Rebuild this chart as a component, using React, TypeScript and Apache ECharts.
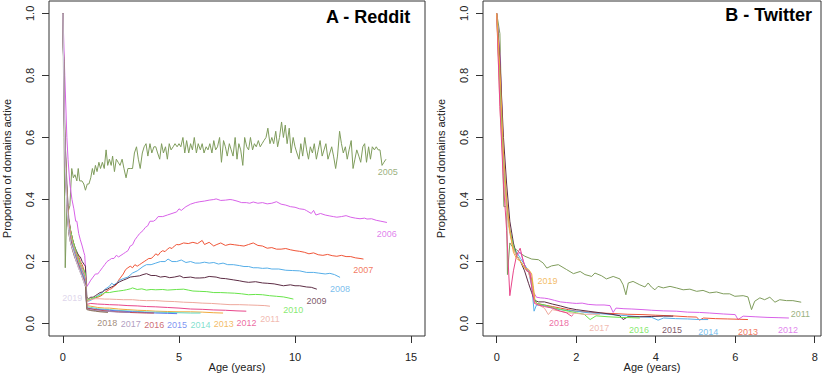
import React, { useEffect, useRef } from "react";
import * as echarts from "echarts";

type Pt = [number, number];

// ---------- axis ticks ----------
const xTicksA = [0, 5, 10, 15];
const xTicksB = [0, 2, 4, 6, 8];
const yTicks = [0, 0.2, 0.4, 0.6, 0.8, 1.0];

// ---------- palette (cohort order) ----------
const palette = ["#7f9c5c", "#d862e8", "#ef5538", "#56aee8", "#5c2c44", "#68e44a", "#eea89c", "#e8468a", "#f0aa3c", "#62d8c2", "#5a78ee", "#c04650", "#9d86b0", "#8a6e58", "#d6cbe6"];
const twitterPalette = ["#7f9c5c", "#d862e8", "#ef5538", "#56aee8", "#5c2c44", "#68e44a", "#eea89c", "#e8468a", "#f0aa3c"];

// ---------- Reddit (panel A) ----------
const reddit2005: Pt[] = [[0,1.0],[0.05,0.6],[0.1,0.18],[0.17,0.38],[0.22,0.36],[0.3,0.38],[0.38,0.5],[0.45,0.47],[0.52,0.48],[0.6,0.46],[0.66,0.5],[0.72,0.46],[0.82,0.46],[0.9,0.45],[0.97,0.43],[1.05,0.45],[1.12,0.45],[1.2,0.47],[1.27,0.5],[1.33,0.48],[1.4,0.51],[1.47,0.49],[1.55,0.52],[1.62,0.5],[1.7,0.52],[1.78,0.5],[1.86,0.56],[1.93,0.51],[2.0,0.53],[2.08,0.51],[2.14,0.54],[2.22,0.49],[2.3,0.53],[2.38,0.52],[2.46,0.51],[2.55,0.53],[2.63,0.5],[2.72,0.47],[2.8,0.5],[2.9,0.5],[3.0,0.5],[3.08,0.55],[3.17,0.57],[3.25,0.53],[3.33,0.5],[3.42,0.55],[3.5,0.57],[3.58,0.58],[3.66,0.54],[3.75,0.58],[3.83,0.55],[3.92,0.57],[4.0,0.57],[4.08,0.55],[4.17,0.53],[4.25,0.58],[4.33,0.55],[4.42,0.57],[4.5,0.53],[4.58,0.58],[4.66,0.56],[4.75,0.57],[4.83,0.58],[4.92,0.57],[5.0,0.58],[5.08,0.57],[5.17,0.6],[5.25,0.55],[5.33,0.59],[5.42,0.55],[5.5,0.58],[5.58,0.56],[5.66,0.6],[5.75,0.55],[5.83,0.58],[5.92,0.56],[6.0,0.58],[6.08,0.55],[6.17,0.57],[6.25,0.56],[6.33,0.58],[6.42,0.55],[6.5,0.59],[6.58,0.56],[6.66,0.57],[6.75,0.6],[6.83,0.52],[6.92,0.59],[7.0,0.57],[7.08,0.54],[7.17,0.58],[7.25,0.56],[7.33,0.54],[7.42,0.6],[7.5,0.53],[7.58,0.58],[7.66,0.56],[7.75,0.51],[7.83,0.6],[7.92,0.57],[8.0,0.56],[8.08,0.6],[8.17,0.56],[8.25,0.58],[8.33,0.57],[8.42,0.59],[8.5,0.57],[8.58,0.58],[8.66,0.59],[8.75,0.6],[8.83,0.63],[8.92,0.58],[9.0,0.6],[9.08,0.58],[9.17,0.62],[9.25,0.57],[9.33,0.6],[9.42,0.65],[9.5,0.6],[9.58,0.64],[9.66,0.58],[9.75,0.63],[9.83,0.55],[9.92,0.6],[10.0,0.57],[10.08,0.55],[10.17,0.53],[10.25,0.58],[10.33,0.54],[10.42,0.6],[10.5,0.56],[10.58,0.53],[10.66,0.57],[10.75,0.55],[10.83,0.58],[10.92,0.53],[11.0,0.56],[11.08,0.59],[11.17,0.54],[11.25,0.56],[11.33,0.58],[11.42,0.53],[11.5,0.55],[11.58,0.57],[11.66,0.54],[11.75,0.5],[11.83,0.54],[11.92,0.62],[12.0,0.58],[12.08,0.55],[12.17,0.57],[12.25,0.53],[12.33,0.56],[12.42,0.59],[12.5,0.5],[12.58,0.53],[12.66,0.56],[12.75,0.54],[12.83,0.52],[12.92,0.57],[13.0,0.58],[13.08,0.52],[13.17,0.57],[13.25,0.53],[13.33,0.57],[13.42,0.56],[13.5,0.57],[13.58,0.56],[13.66,0.56],[13.75,0.51],[13.83,0.52],[13.92,0.53]];
const reddit2006: Pt[] = [[0,1],[0.08,0.8],[0.17,0.6],[0.22,0.53],[0.3,0.45],[0.39,0.4],[0.47,0.37],[0.55,0.33],[0.6,0.33],[0.68,0.29],[0.75,0.27],[0.83,0.25],[0.9,0.23],[0.94,0.22],[1.0,0.14],[1.04,0.12],[1.12,0.13],[1.2,0.14],[1.3,0.15],[1.4,0.16],[1.5,0.16],[1.58,0.168],[1.7,0.18],[1.8,0.19],[1.9,0.2],[2.0,0.205],[2.1,0.21],[2.2,0.21],[2.3,0.22],[2.4,0.215],[2.5,0.22],[2.6,0.225],[2.7,0.23],[2.8,0.235],[2.9,0.25],[3.0,0.254],[3.1,0.27],[3.2,0.28],[3.3,0.29],[3.45,0.3],[3.55,0.31],[3.65,0.315],[3.75,0.33],[3.9,0.33],[4.0,0.335],[4.1,0.345],[4.3,0.345],[4.5,0.35],[4.7,0.355],[4.9,0.36],[5.0,0.37],[5.1,0.365],[5.3,0.377],[5.5,0.385],[5.7,0.39],[5.9,0.393],[6.1,0.395],[6.3,0.398],[6.5,0.4],[6.6,0.402],[6.8,0.397],[7.0,0.398],[7.2,0.4],[7.3,0.399],[7.5,0.395],[7.7,0.39],[7.9,0.39],[8.05,0.388],[8.2,0.392],[8.4,0.388],[8.6,0.39],[8.8,0.386],[9.0,0.388],[9.2,0.393],[9.4,0.385],[9.6,0.382],[9.8,0.377],[10.0,0.375],[10.2,0.37],[10.4,0.368],[10.5,0.364],[10.7,0.355],[10.8,0.365],[10.9,0.35],[11.1,0.355],[11.3,0.35],[11.5,0.347],[11.65,0.345],[11.8,0.343],[12.0,0.345],[12.2,0.348],[12.4,0.343],[12.6,0.34],[12.8,0.338],[13.0,0.34],[13.1,0.337],[13.3,0.338],[13.5,0.333],[13.7,0.33],[13.96,0.326]];
const reddit2007: Pt[] = [[0,1],[0.08,0.6],[0.17,0.42],[0.25,0.33],[0.33,0.3],[0.42,0.27],[0.5,0.245],[0.58,0.23],[0.67,0.22],[0.75,0.2],[0.83,0.19],[0.92,0.17],[0.97,0.155],[1.03,0.075],[1.1,0.075],[1.2,0.078],[1.3,0.08],[1.4,0.083],[1.5,0.085],[1.6,0.088],[1.7,0.092],[1.8,0.1],[1.9,0.105],[2.0,0.11],[2.1,0.113],[2.2,0.12],[2.3,0.125],[2.4,0.14],[2.5,0.15],[2.6,0.16],[2.7,0.174],[2.8,0.18],[2.9,0.185],[3.0,0.18],[3.1,0.19],[3.2,0.185],[3.3,0.19],[3.4,0.195],[3.5,0.2],[3.6,0.205],[3.7,0.21],[3.8,0.21],[3.9,0.216],[4.0,0.225],[4.1,0.22],[4.2,0.23],[4.3,0.235],[4.4,0.232],[4.5,0.24],[4.6,0.245],[4.7,0.242],[4.8,0.25],[4.9,0.255],[5.0,0.254],[5.2,0.26],[5.4,0.258],[5.6,0.262],[5.8,0.258],[6.0,0.268],[6.1,0.255],[6.3,0.262],[6.5,0.25],[6.6,0.254],[6.8,0.26],[7.0,0.252],[7.2,0.256],[7.4,0.254],[7.6,0.252],[7.8,0.25],[8.0,0.255],[8.2,0.26],[8.4,0.252],[8.6,0.25],[8.8,0.243],[9.0,0.245],[9.2,0.24],[9.4,0.24],[9.6,0.242],[9.8,0.238],[10.0,0.235],[10.2,0.233],[10.4,0.23],[10.6,0.225],[10.8,0.228],[11.0,0.222],[11.2,0.22],[11.4,0.223],[11.6,0.219],[11.8,0.217],[12.0,0.22],[12.2,0.216],[12.4,0.216],[12.6,0.212],[12.8,0.21],[12.95,0.208]];
const reddit2008: Pt[] = [[0,1],[0.08,0.58],[0.17,0.4],[0.25,0.32],[0.33,0.28],[0.42,0.26],[0.5,0.24],[0.58,0.22],[0.67,0.21],[0.75,0.19],[0.83,0.18],[0.92,0.16],[0.97,0.14],[1.03,0.07],[1.1,0.072],[1.2,0.075],[1.3,0.08],[1.4,0.085],[1.5,0.09],[1.6,0.095],[1.7,0.1],[1.8,0.11],[1.9,0.115],[2.0,0.12],[2.1,0.13],[2.2,0.125],[2.3,0.13],[2.45,0.14],[2.6,0.145],[2.8,0.15],[3.0,0.163],[3.2,0.17],[3.45,0.184],[3.6,0.19],[3.8,0.19],[4.0,0.195],[4.2,0.2],[4.4,0.2],[4.53,0.208],[4.7,0.2],[4.9,0.2],[5.1,0.205],[5.3,0.197],[5.5,0.2],[5.7,0.195],[5.9,0.195],[6.1,0.198],[6.3,0.195],[6.5,0.197],[6.7,0.192],[6.9,0.195],[7.1,0.19],[7.34,0.19],[7.6,0.187],[7.8,0.184],[8.0,0.184],[8.2,0.18],[8.4,0.18],[8.6,0.178],[8.8,0.179],[9.0,0.176],[9.3,0.176],[9.6,0.172],[9.9,0.171],[10.2,0.17],[10.5,0.165],[10.8,0.165],[11.0,0.163],[11.3,0.16],[11.5,0.162],[11.7,0.158],[11.94,0.149]];
const reddit2009: Pt[] = [[0,1],[0.08,0.62],[0.17,0.45],[0.25,0.34],[0.33,0.3],[0.42,0.27],[0.5,0.25],[0.58,0.235],[0.67,0.22],[0.75,0.215],[0.83,0.2],[0.92,0.19],[0.97,0.185],[1.03,0.085],[1.1,0.08],[1.2,0.085],[1.3,0.085],[1.4,0.09],[1.5,0.095],[1.6,0.1],[1.7,0.102],[1.8,0.108],[1.9,0.11],[2.0,0.115],[2.16,0.12],[2.3,0.128],[2.45,0.135],[2.6,0.14],[2.73,0.144],[2.9,0.15],[3.1,0.152],[3.3,0.154],[3.45,0.158],[3.6,0.161],[3.8,0.155],[4.0,0.155],[4.2,0.15],[4.4,0.152],[4.6,0.148],[4.8,0.15],[5.04,0.154],[5.2,0.148],[5.5,0.15],[5.7,0.147],[5.9,0.147],[6.1,0.148],[6.3,0.152],[6.6,0.15],[6.8,0.146],[7.0,0.145],[7.34,0.141],[7.6,0.138],[7.8,0.135],[8.0,0.133],[8.3,0.135],[8.6,0.131],[8.8,0.13],[9.1,0.128],[9.5,0.122],[9.8,0.125],[10.0,0.122],[10.2,0.122],[10.5,0.118],[10.7,0.117],[10.94,0.111]];
const reddit2010: Pt[] = [[0,1],[0.08,0.6],[0.17,0.42],[0.25,0.33],[0.33,0.3],[0.42,0.27],[0.5,0.25],[0.58,0.23],[0.67,0.21],[0.75,0.195],[0.83,0.18],[0.92,0.17],[0.97,0.16],[1.03,0.075],[1.1,0.077],[1.2,0.08],[1.3,0.083],[1.4,0.085],[1.5,0.088],[1.58,0.09],[1.7,0.095],[1.8,0.1],[2.0,0.1],[2.2,0.103],[2.4,0.105],[2.6,0.107],[2.73,0.109],[2.9,0.112],[3.0,0.115],[3.2,0.11],[3.4,0.112],[3.6,0.108],[3.8,0.11],[4.0,0.109],[4.3,0.11],[4.5,0.108],[4.7,0.109],[4.9,0.11],[5.2,0.111],[5.4,0.108],[5.6,0.105],[5.9,0.104],[6.2,0.103],[6.5,0.1],[6.8,0.1],[7.1,0.099],[7.4,0.098],[7.7,0.096],[8.0,0.093],[8.3,0.094],[8.6,0.093],[8.9,0.09],[9.2,0.088],[9.5,0.086],[9.7,0.083],[9.93,0.079]];
const reddit2011: Pt[] = [[0,1],[0.08,0.58],[0.17,0.42],[0.25,0.33],[0.33,0.29],[0.42,0.26],[0.5,0.24],[0.58,0.22],[0.67,0.2],[0.75,0.19],[0.83,0.175],[0.92,0.16],[0.97,0.15],[1.03,0.07],[1.2,0.078],[1.4,0.08],[1.6,0.08],[1.8,0.079],[2.0,0.079],[2.3,0.078],[2.6,0.077],[3.0,0.077],[3.3,0.075],[3.6,0.074],[4.0,0.074],[4.4,0.072],[4.8,0.071],[5.2,0.069],[5.6,0.068],[6.0,0.066],[6.4,0.065],[6.8,0.063],[7.2,0.061],[7.6,0.061],[8.0,0.06],[8.4,0.059],[8.7,0.058],[8.92,0.056]];
const reddit2012: Pt[] = [[0,1],[0.08,0.58],[0.17,0.41],[0.25,0.32],[0.33,0.28],[0.42,0.25],[0.5,0.235],[0.58,0.22],[0.67,0.2],[0.75,0.185],[0.83,0.17],[0.92,0.155],[0.97,0.14],[1.03,0.062],[1.2,0.065],[1.5,0.063],[1.8,0.062],[2.0,0.061],[2.4,0.06],[2.8,0.058],[3.2,0.057],[3.6,0.055],[4.0,0.054],[4.5,0.052],[5.0,0.05],[5.5,0.047],[6.0,0.046],[6.5,0.044],[7.0,0.043],[7.5,0.041],[7.9,0.04]];
const reddit2013: Pt[] = [[0,1],[0.08,0.57],[0.17,0.4],[0.25,0.31],[0.33,0.28],[0.42,0.25],[0.5,0.23],[0.58,0.215],[0.67,0.2],[0.75,0.18],[0.83,0.165],[0.92,0.15],[0.97,0.135],[1.03,0.058],[1.2,0.056],[1.5,0.052],[1.8,0.05],[2.0,0.05],[2.4,0.047],[2.8,0.045],[3.2,0.043],[3.6,0.042],[4.0,0.04],[4.5,0.039],[5.0,0.038],[5.5,0.038],[6.0,0.037],[6.5,0.035],[6.9,0.034]];
const reddit2014: Pt[] = [[0,1],[0.08,0.57],[0.17,0.4],[0.25,0.31],[0.33,0.275],[0.42,0.25],[0.5,0.23],[0.58,0.21],[0.67,0.195],[0.75,0.18],[0.83,0.165],[0.92,0.15],[0.97,0.13],[1.03,0.054],[1.2,0.052],[1.5,0.048],[1.8,0.046],[2.0,0.045],[2.5,0.042],[3.0,0.04],[3.5,0.038],[4.0,0.037],[4.5,0.036],[5.0,0.035],[5.5,0.034],[5.93,0.034]];
const reddit2015: Pt[] = [[0,1],[0.08,0.56],[0.17,0.39],[0.25,0.3],[0.33,0.27],[0.42,0.245],[0.5,0.225],[0.58,0.21],[0.67,0.19],[0.75,0.175],[0.83,0.16],[0.92,0.145],[0.97,0.13],[1.03,0.05],[1.3,0.047],[1.6,0.045],[2.0,0.043],[2.5,0.04],[3.0,0.038],[3.5,0.036],[4.0,0.034],[4.5,0.033],[4.92,0.032]];
const reddit2016: Pt[] = [[0,1],[0.08,0.56],[0.17,0.39],[0.25,0.3],[0.33,0.27],[0.42,0.24],[0.5,0.22],[0.58,0.205],[0.67,0.19],[0.75,0.17],[0.83,0.155],[0.92,0.14],[0.97,0.125],[1.03,0.05],[1.3,0.046],[1.6,0.043],[2.0,0.04],[2.4,0.038],[2.8,0.036],[3.2,0.035],[3.6,0.034],[3.92,0.034]];
const reddit2017: Pt[] = [[0,1],[0.08,0.55],[0.17,0.38],[0.25,0.3],[0.33,0.26],[0.42,0.24],[0.5,0.22],[0.58,0.2],[0.67,0.185],[0.75,0.17],[0.83,0.15],[0.92,0.135],[0.97,0.12],[1.03,0.047],[1.3,0.043],[1.6,0.04],[2.0,0.039],[2.4,0.037],[2.9,0.036]];
const reddit2018: Pt[] = [[0,1],[0.08,0.55],[0.17,0.38],[0.25,0.29],[0.33,0.26],[0.42,0.235],[0.5,0.215],[0.58,0.2],[0.67,0.18],[0.75,0.165],[0.83,0.15],[0.92,0.13],[0.97,0.12],[1.03,0.045],[1.2,0.042],[1.4,0.04],[1.6,0.038],[1.94,0.036]];
const reddit2019: Pt[] = [[0,1],[0.08,0.55],[0.17,0.38],[0.25,0.3],[0.33,0.26],[0.42,0.24],[0.5,0.22],[0.58,0.2],[0.67,0.18],[0.75,0.165],[0.83,0.15],[0.92,0.13],[0.97,0.12]];

const redditYears = ["2005","2006","2007","2008","2009","2010","2011","2012","2013","2014","2015","2016","2017","2018","2019"];
const redditSeries: Pt[][] = [reddit2005, reddit2006, reddit2007, reddit2008, reddit2009, reddit2010, reddit2011, reddit2012, reddit2013, reddit2014, reddit2015, reddit2016, reddit2017, reddit2018, reddit2019];
// label anchor positions (data units)
const redditLabelX = [14.0, 13.95, 12.94, 11.94, 10.93, 9.92, 8.92, 7.91, 6.93, 5.93, 4.92, 3.93, 2.92, 1.91, 0.4];
const redditLabelY = [0.5, 0.298, 0.182, 0.122, 0.083, 0.052, 0.026, 0.011, 0.007, 0.004, 0.004, 0.005, 0.008, 0.011, 0.091];

// ---------- Twitter (panel B) ----------
const twitter2011: Pt[] = [[0,1],[0.08,0.935],[0.18,0.377],[0.25,0.377],[0.27,0.158],[0.33,0.26],[0.42,0.243],[0.5,0.238],[0.59,0.227],[0.71,0.217],[0.88,0.208],[1.05,0.206],[1.17,0.195],[1.26,0.179],[1.38,0.186],[1.55,0.19],[1.76,0.174],[1.93,0.161],[2.1,0.168],[2.22,0.158],[2.39,0.152],[2.47,0.163],[2.64,0.154],[2.76,0.144],[2.93,0.152],[3.1,0.144],[3.18,0.125],[3.25,0.093],[3.31,0.131],[3.43,0.136],[3.6,0.125],[3.73,0.118],[3.81,0.131],[3.89,0.118],[3.98,0.109],[4.06,0.12],[4.19,0.115],[4.36,0.12],[4.52,0.115],[4.69,0.109],[4.86,0.111],[5.03,0.104],[5.19,0.107],[5.36,0.099],[5.53,0.102],[5.7,0.096],[5.86,0.096],[5.99,0.088],[6.2,0.09],[6.32,0.086],[6.41,0.045],[6.49,0.072],[6.62,0.083],[6.74,0.077],[6.87,0.085],[7.0,0.069],[7.12,0.077],[7.29,0.074],[7.45,0.074],[7.66,0.069]];
const twitter2012: Pt[] = [[0,1],[0.08,0.87],[0.17,0.55],[0.25,0.4],[0.33,0.3],[0.42,0.25],[0.5,0.22],[0.6,0.23],[0.7,0.19],[0.78,0.17],[0.85,0.165],[0.93,0.1],[1.0,0.085],[1.1,0.083],[1.2,0.082],[1.3,0.08],[1.45,0.075],[1.6,0.07],[1.75,0.068],[1.9,0.066],[2.0,0.065],[2.15,0.066],[2.3,0.062],[2.5,0.06],[2.7,0.06],[2.85,0.058],[2.93,0.036],[3.0,0.05],[3.2,0.048],[3.4,0.047],[3.68,0.045],[3.9,0.043],[4.2,0.041],[4.52,0.04],[4.8,0.037],[5.1,0.036],[5.36,0.034],[5.7,0.031],[6.0,0.029],[6.07,0.013],[6.2,0.024],[6.5,0.022],[6.8,0.02],[7.1,0.019],[7.35,0.018]];
const twitter2013: Pt[] = [[0,1],[0.08,0.75],[0.17,0.5],[0.25,0.38],[0.33,0.3],[0.42,0.24],[0.5,0.22],[0.6,0.2],[0.7,0.18],[0.8,0.17],[0.88,0.14],[0.95,0.08],[1.0,0.065],[1.2,0.06],[1.4,0.055],[1.6,0.05],[1.8,0.045],[2.0,0.04],[2.3,0.037],[2.6,0.034],[3.0,0.032],[3.3,0.03],[3.68,0.029],[4.0,0.027],[4.4,0.025],[4.8,0.022],[5.03,0.021],[5.1,0.011],[5.2,0.018],[5.5,0.016],[5.8,0.015],[6.1,0.014],[6.32,0.013]];
const twitter2014: Pt[] = [[0,1],[0.08,0.8],[0.17,0.52],[0.25,0.38],[0.33,0.3],[0.42,0.25],[0.5,0.23],[0.6,0.21],[0.7,0.19],[0.8,0.17],[0.88,0.12],[0.94,0.04],[1.0,0.06],[1.2,0.058],[1.4,0.05],[1.6,0.045],[1.8,0.042],[2.0,0.04],[2.3,0.035],[2.6,0.032],[3.0,0.028],[3.3,0.025],[3.6,0.022],[3.9,0.02],[4.06,0.011],[4.2,0.018],[4.5,0.016],[4.8,0.015],[5.1,0.013],[5.32,0.013]];
const twitter2015: Pt[] = [[0,1],[0.08,0.85],[0.17,0.6],[0.25,0.45],[0.33,0.33],[0.42,0.26],[0.5,0.22],[0.6,0.2],[0.7,0.17],[0.8,0.13],[0.88,0.1],[0.95,0.075],[1.05,0.07],[1.2,0.07],[1.4,0.063],[1.6,0.057],[1.8,0.05],[2.0,0.045],[2.3,0.04],[2.6,0.035],[2.9,0.03],[3.1,0.025],[3.18,0.013],[3.3,0.022],[3.6,0.022],[3.9,0.023],[4.2,0.024],[4.44,0.024]];
const twitter2016: Pt[] = [[0,1],[0.08,0.75],[0.17,0.5],[0.25,0.37],[0.33,0.3],[0.42,0.25],[0.5,0.22],[0.6,0.2],[0.7,0.18],[0.8,0.165],[0.88,0.14],[0.95,0.08],[1.0,0.065],[1.2,0.06],[1.4,0.052],[1.6,0.046],[1.8,0.04],[2.0,0.035],[2.2,0.03],[2.35,0.013],[2.5,0.025],[2.8,0.022],[3.1,0.02],[3.4,0.019],[3.6,0.018]];
const twitter2017: Pt[] = [[0,1],[0.08,0.7],[0.17,0.48],[0.25,0.36],[0.33,0.29],[0.42,0.24],[0.5,0.22],[0.6,0.2],[0.7,0.18],[0.8,0.165],[0.88,0.13],[0.95,0.07],[1.05,0.06],[1.2,0.05],[1.3,0.029],[1.4,0.045],[1.6,0.04],[1.8,0.035],[2.0,0.033],[2.2,0.03],[2.4,0.03],[2.6,0.03]];
const twitter2018: Pt[] = [[0,1],[0.08,0.7],[0.17,0.45],[0.25,0.3],[0.33,0.09],[0.42,0.17],[0.5,0.22],[0.59,0.243],[0.67,0.2],[0.75,0.17],[0.83,0.165],[0.9,0.1],[0.95,0.065],[1.05,0.06],[1.2,0.055],[1.4,0.05],[1.6,0.04],[1.75,0.035],[1.88,0.024],[1.93,0.03]];
const twitter2019: Pt[] = [[0,1],[0.08,0.82],[0.17,0.55],[0.25,0.4],[0.33,0.3],[0.42,0.23],[0.5,0.21],[0.6,0.2],[0.7,0.18],[0.8,0.175],[0.88,0.16],[0.96,0.08]];

const twitterYears = ["2011","2012","2013","2014","2015","2016","2017","2018","2019"];
const twitterSeries: Pt[][] = [twitter2011, twitter2012, twitter2013, twitter2014, twitter2015, twitter2016, twitter2017, twitter2018, twitter2019];
const twitterLabelX = [7.64, 7.33, 6.32, 5.32, 4.41, 3.58, 2.58, 1.57, 1.28];
const twitterLabelY = [0.04, -0.012, -0.017, -0.017, -0.012, -0.012, -0.005, 0.011, 0.147];

const FONT = "'Liberation Sans', Arial, Helvetica, sans-serif";

function makeAxisX(idx: number, min: number, max: number, ticks: number[]) {
  return {
    type: "value",
    gridIndex: idx,
    min,
    max,
    axisLine: { show: false, onZero: false },
    splitLine: { show: false },
    axisTick: { show: true, length: 7, customValues: ticks, lineStyle: { color: "#333", width: 1 } },
    axisLabel: {
      show: true,
      customValues: ticks,
      margin: 15,
      fontSize: 11,
      color: "#222",
      fontFamily: FONT,
      formatter: (v: number) => String(v),
    },
    name: "Age (years)",
    nameLocation: "middle",
    nameGap: 25,
    nameMoveOverlap: false,
    nameTextStyle: { fontSize: 11, color: "#222", fontFamily: FONT },
  };
}

function makeAxisY(idx: number) {
  return {
    type: "value",
    gridIndex: idx,
    min: -0.04,
    max: 1.04,
    axisLine: { show: false, onZero: false },
    splitLine: { show: false },
    axisTick: { show: true, length: 7, customValues: yTicks, lineStyle: { color: "#333", width: 1 } },
    axisLabel: {
      show: true,
      customValues: yTicks,
      rotate: 90,
      margin: 14,
      fontSize: 11,
      color: "#222",
      fontFamily: FONT,
      formatter: (v: number) => v.toFixed(1),
    },
    name: "Proportion of domains active",
    nameLocation: "middle",
    nameRotate: 90,
    nameGap: 37,
    nameMoveOverlap: false,
    nameTextStyle: { fontSize: 11, color: "#222", fontFamily: FONT },
  };
}

function lineSeries(name: string, data: Pt[], color: string, idx: number) {
  return {
    type: "line",
    name,
    data,
    xAxisIndex: idx,
    yAxisIndex: idx,
    symbol: "none",
    showSymbol: false,
    smooth: false,
    silent: true,
    lineStyle: { width: 1, color },
    itemStyle: { color },
  };
}

function labelSeries(years: string[], xs: number[], ys: number[], colors: string[], idx: number) {
  return {
    type: "scatter",
    xAxisIndex: idx,
    yAxisIndex: idx,
    symbolSize: 1,
    silent: true,
    clip: false,
    itemStyle: { color: "rgba(0,0,0,0)" },
    data: years.map((y, i) => ({
      value: [xs[i], ys[i]],
      name: y,
      label: { color: colors[i] },
    })),
    label: {
      show: true,
      position: "inside",
      offset: [0, 3],
      fontSize: 9,
      fontFamily: FONT,
      formatter: (p: any) => p.name,
    },
  };
}

export default function App() {
  const ref = useRef<HTMLDivElement>(null);
  useEffect(() => {
    if (!ref.current) return;
    const chart = echarts.init(ref.current, null, { renderer: "svg" });
    const series: any[] = [];
    redditYears.forEach((y, i) => series.push(lineSeries("Reddit " + y, redditSeries[i], palette[i], 0)));
    twitterYears.forEach((y, i) => series.push(lineSeries("Twitter " + y, twitterSeries[i], twitterPalette[i], 1)));
    series.push(labelSeries(redditYears, redditLabelX, redditLabelY, palette, 0));
    series.push(labelSeries(twitterYears, twitterLabelX, twitterLabelY, twitterPalette, 1));
    chart.setOption({
      animation: false,
      backgroundColor: "#ffffff",
      title: [
        { text: "A - Reddit", right: 822 - 416, top: 3, textStyle: { fontSize: 18, fontWeight: "bold", color: "#000", fontFamily: FONT } },
        { text: "B - Twitter", right: 5, top: 1, textStyle: { fontSize: 18, fontWeight: "bold", color: "#000", fontFamily: FONT } },
      ],
      grid: [
        { left: 49, top: 1, width: 376, height: 335, outerBoundsMode: "none", containLabel: false, show: true, borderColor: "#333", borderWidth: 1, backgroundColor: "transparent" },
        { left: 483, top: 1, width: 338, height: 335, outerBoundsMode: "none", containLabel: false, show: true, borderColor: "#333", borderWidth: 1, backgroundColor: "transparent" },
      ],
      xAxis: [makeAxisX(0, -0.6, 15.6, xTicksA), makeAxisX(1, -0.345, 8.158, xTicksB)],
      yAxis: [makeAxisY(0), makeAxisY(1)],
      series,
    });
    return () => chart.dispose();
  }, []);
  return <div ref={ref} style={{ width: 822, height: 375, position: "fixed", left: 0, top: 0 }} />;
}
